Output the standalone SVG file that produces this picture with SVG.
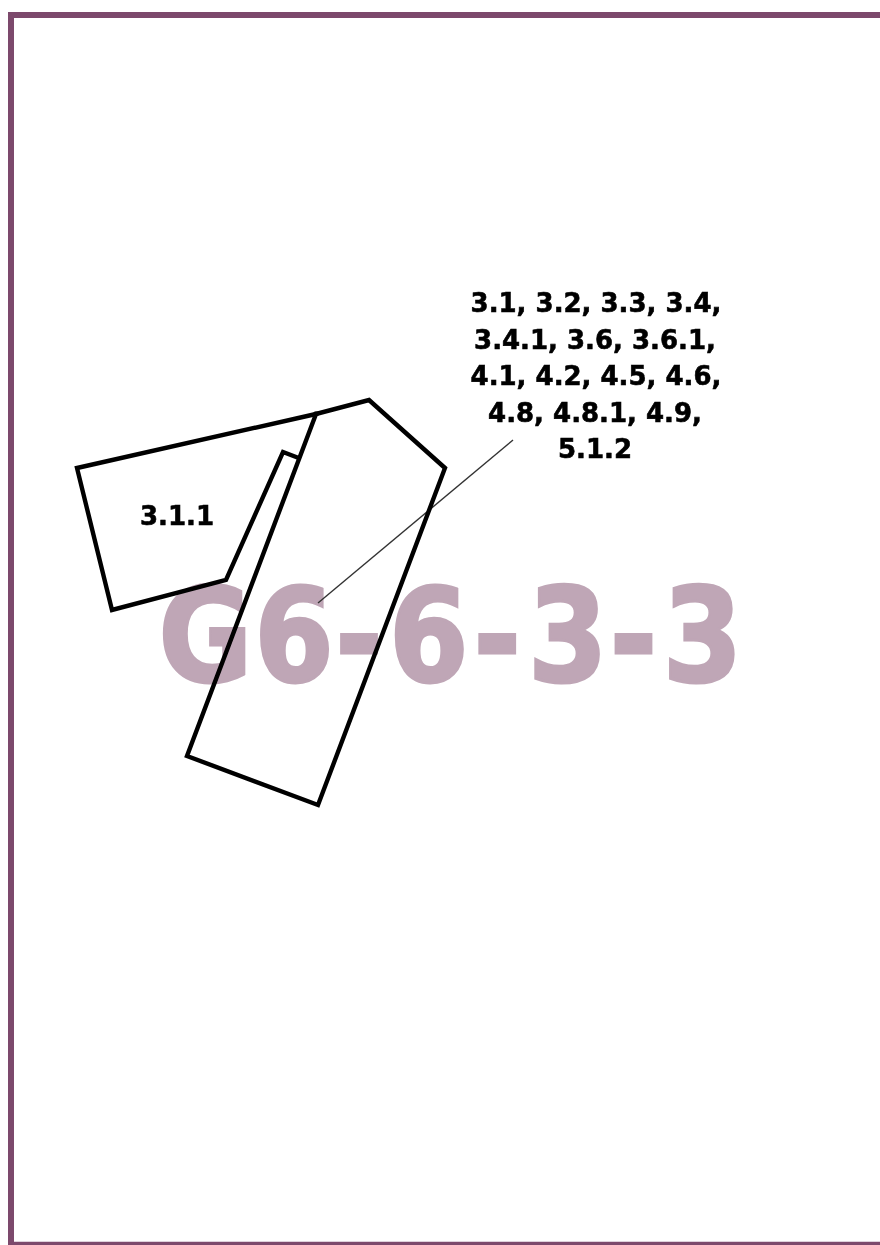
<svg xmlns="http://www.w3.org/2000/svg" width="880" height="1245" viewBox="0 0 880 1245">
<defs><filter id="soft" x="-5%" y="-5%" width="110%" height="110%"><feGaussianBlur stdDeviation="0.6"/></filter></defs>
<style>
.frame{stroke:#7b4a6c;fill:none}
.outline{fill:none;stroke:#000;stroke-width:4.4;stroke-linejoin:miter;stroke-linecap:square}
.leader{fill:none;stroke:#333;stroke-width:1.4}
.mark{font-family:"DejaVu Sans",sans-serif;font-weight:700;font-size:130px;fill:#bfa6b6;stroke:#bfa6b6;stroke-width:3}
.label{font-family:"DejaVu Sans",sans-serif;font-weight:700;font-size:26px;fill:#000;stroke:#000;stroke-width:.6;text-anchor:middle}
</style>
<rect width="880" height="1245" fill="#fff"/>
<g id="frame" filter="url(#soft)">
<path class="frame" stroke-width="6" d="M880 15H11V1245"/>
<path class="frame" stroke-width="3.5" d="M8 1243.5H880"/>
</g>
<g filter="url(#soft)">
<text id="watermark" class="mark" transform="scale(.88 1)" x="180 289 381 442 538 600 693 753" y="681">G6-6-3-3</text>
<g id="connectors">
<path class="leader" d="M318 603L513 440"/>
</g>
<g id="strip">
<path class="outline" d="M316 414L369 400L445 468L318 805L187 756L316 414"/>
</g>
<g id="wing">
<path class="outline" d="M316 414L77 468L112 610L226 580L283 452L296 457"/>
<text class="label" x="177" y="525">3.1.1</text>
</g>
<g id="labels">
<text class="label" x="596" y="312">3.1, 3.2, 3.3, 3.4,</text>
<text class="label" x="595" y="349">3.4.1, 3.6, 3.6.1,</text>
<text class="label" x="596" y="385">4.1, 4.2, 4.5, 4.6,</text>
<text class="label" x="595" y="422">4.8, 4.8.1, 4.9,</text>
<text class="label" x="595" y="458">5.1.2</text>
</g>
</g>
</svg>
